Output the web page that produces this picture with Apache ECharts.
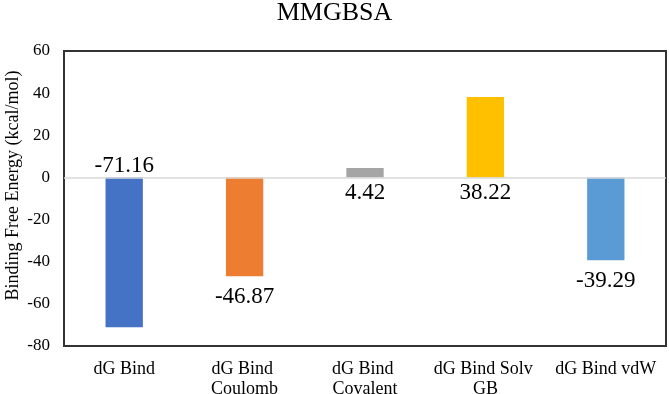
<!DOCTYPE html>
<html>
<head>
<meta charset="utf-8">
<script src="https://cdn.jsdelivr.net/npm/echarts@6/dist/echarts.min.js"></script>
<style>
    html, body { margin: 0; padding: 0; background: #fff; }
    #chart { width: 669px; height: 394px; }
</style>
</head>
<body>
<div id="chart"></div>
<script>
// MMGBSA 能量分解
const categories = ['dG Bind', 'dG Bind Coulomb', 'dG Bind Covalent', 'dG Bind Solv GB', 'dG Bind vdW'];
const energies = [-71.16, -46.87, 4.42, 38.22, -39.29];
const barColors = ['#4472C4', '#ED7D31', '#A5A5A5', '#FFC000', '#5B9BD5'];
// 标签放置（对照原图）
const labelPos = ['top', 'bottom', 'bottom', 'bottom', 'bottom'];
const labelGap = [0, 9, 4, 4, 9];

const font = '"Liberation Serif", "Times New Roman", serif';

const seriesData = energies.map((v, i) => ({
    value: v,
    itemStyle: { color: barColors[i] },
    label: { position: labelPos[i], distance: labelGap[i] }
}));

const myChart = echarts.init(document.getElementById('chart'));
myChart.setOption({
    animation: false,
    title: {
        text: 'MMGBSA',
        left: 'center',
        top: -5,
        textStyle: {
            fontFamily: font,
            fontSize: 26,
            fontWeight: 'normal',
            color: '#000'
        }
    },
    grid: {
        left: 64,
        right: 3,
        top: 51,
        bottom: 48,
        outerBoundsMode: 'none',
        containLabel: false,
        show: true,
        borderColor: '#333',
        borderWidth: 2
    },
    xAxis: {
        type: 'category',
        data: categories,
        axisLine: { show: false, onZero: false },
        axisTick: { show: false },
        axisLabel: {
            interval: 0,
            margin: 13,
            width: 112,
            overflow: 'break',
            lineHeight: 20,
            fontFamily: font,
            fontSize: 18,
            color: '#000'
        }
    },
    yAxis: {
        type: 'value',
        min: -80,
        max: 60,
        interval: 20,
        name: 'Binding Free Energy (kcal/mol)',
        nameLocation: 'middle',
        nameGap: 42,
        nameMoveOverlap: false,
        nameTextStyle: {
            fontFamily: font,
            fontSize: 18,
            color: '#000',
            padding: [0, 0, 0, 26]
        },
        axisLine: { show: false },
        axisTick: { show: false },
        splitLine: { show: false },
        axisLabel: {
            margin: 14,
            fontFamily: font,
            fontSize: 17,
            color: '#000'
        }
    },
    series: [
        {
            type: 'bar',
            barWidth: '31%',
            data: seriesData,
            label: {
                show: true,
                fontFamily: font,
                fontSize: 23,
                color: '#000',
                formatter: (p) => p.value.toFixed(2)
            },
            markLine: {
                silent: true,
                symbol: 'none',
                label: { show: false },
                lineStyle: { color: '#d9d9d9', width: 1.5, type: 'solid' },
                data: [{ yAxis: 0 }]
            }
        }
    ]
});
</script>
</body>
</html>
